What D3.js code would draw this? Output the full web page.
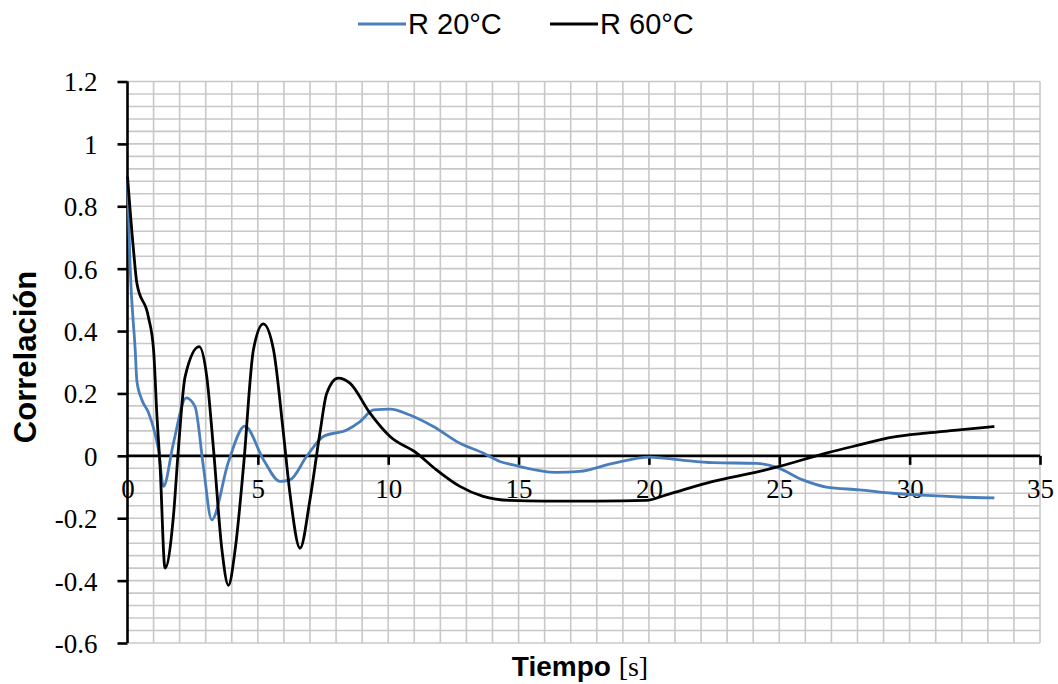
<html>
<head>
	<meta charset='utf-8' />
	<title>Correlacion</title>
	<script src="https://cdn.jsdelivr.net/npm/d3@7/dist/d3.min.js"></script>
	<style>
	body { margin:0; background:#ffffff; }
	.grid line { stroke:#c8c8c8; stroke-width:1.6; }
	.serif { font-family:"Liberation Serif","Times New Roman",Times,"DejaVu Serif",serif; }
	.sans { font-family:"Liberation Sans",Arial,Helvetica,sans-serif; }
	</style>
</head>
<body>
<script>

	// R 20°C
	var t20 = [0, 0.1, 0.295, 0.36, 0.55, 0.8, 1.06, 1.19, 1.38, 1.76, 2.25, 2.59, 2.91, 3.23, 3.87, 4.5, 5.22, 5.85, 6.23, 6.87, 7.51, 8.41, 8.92, 9.44, 10.07, 10.83, 11.73, 12.75, 13.64, 14.28, 14.79, 16.45, 17.34, 18.62, 20.03, 21.18, 22.46, 24.12, 24.88, 25.9, 26.8, 28.07, 29.35, 30.63, 31.9, 33.25];
	var r20 = [0.89, 0.607, 0.34, 0.24, 0.18, 0.14, 0.07, 0.02, -0.098, 0.04, 0.186, 0.158, -0.034, -0.205, -0.02, 0.095, -0.013, -0.082, -0.077, -0.002, 0.062, 0.083, 0.11, 0.147, 0.15, 0.131, 0.094, 0.04, 0.009, -0.018, -0.029, -0.053, -0.05, -0.024, -0.004, -0.013, -0.022, -0.024, -0.036, -0.077, -0.1, -0.109, -0.12, -0.127, -0.132, -0.135];

	// R 60°C
	var t60 = [0, 0.23, 0.36, 0.8, 1.0, 1.13, 1.25, 1.44, 1.76, 1.95, 2.21, 2.75, 3.04, 3.3, 3.62, 3.87, 4.13, 4.45, 4.83, 5.21, 5.6, 5.98, 6.23, 6.62, 7.0, 7.38, 7.64, 8.08, 8.53, 9.3, 10.07, 11.09, 11.85, 12.75, 13.64, 14.66, 16, 18, 19.9, 20.67, 22.46, 24.24, 25.0, 26.8, 28.07, 29.35, 30.63, 31.9, 33.25];
	var r60 = [0.895, 0.66, 0.553, 0.446, 0.34, 0.126, -0.034, -0.36, -0.195, 0.02, 0.254, 0.35, 0.254, 0.02, -0.3, -0.415, -0.3, -0.034, 0.34, 0.423, 0.34, 0.073, -0.12, -0.296, -0.14, 0.073, 0.2, 0.249, 0.233, 0.137, 0.062, 0.009, -0.045, -0.098, -0.13, -0.143, -0.145, -0.145, -0.143, -0.125, -0.082, -0.05, -0.034, 0.009, 0.035, 0.06, 0.073, 0.083, 0.094];

	var xTicks = [0, 5, 10, 15, 20, 25, 30, 35];
	var yTicks = [-0.6, -0.4, -0.2, 0, 0.2, 0.4, 0.6, 0.8, 1, 1.2];
	var seriesNames = ["R 20°C", "R 60°C"];
	var seriesColors = ["#4a7ebb", "#000000"];

	var width = 1058, height = 684;
	var plot = {left:127.5, right:1040, top:81.5, bottom:643};

	var svg = d3.select("body").append("svg")
		.attr("width", width).attr("height", height)
		.style("display","block");

	svg.append("rect").attr("width",width).attr("height",height).attr("fill","#ffffff");

	var xScale = d3.scaleLinear().domain([0,35]).range([plot.left, plot.right]);
	var yScale = d3.scaleLinear().domain([-0.6,1.2]).range([plot.bottom, plot.top]);

	// grid
	var grid = svg.append("g").attr("class","grid");
	grid.selectAll(".vg").data(d3.range(1,36)).enter().append("line")
		.attr("x1",d=>xScale(d)).attr("x2",d=>xScale(d))
		.attr("y1",plot.top).attr("y2",plot.bottom);
	grid.selectAll(".hg").data(d3.range(0,46).map(i=>-0.6+i*0.04)).enter().append("line")
		.attr("x1",plot.left).attr("x2",plot.right)
		.attr("y1",d=>yScale(d)).attr("y2",d=>yScale(d));

	// y axis
	var yAxis = svg.append("g")
		.attr("transform","translate(" + plot.left + ",0)")
		.call(d3.axisLeft(yScale).tickValues(yTicks).tickSize(10).tickPadding(20).tickFormat(d=>String(+d.toFixed(1))));
	yAxis.attr("font-family",null).attr("font-size",null);
	yAxis.selectAll("path,line").attr("stroke","#000").attr("stroke-width",2.6);
	yAxis.select(".domain").attr("d","M0," + plot.top + "V" + plot.bottom);
	yAxis.selectAll("text").attr("class","serif").style("font-size","27px").attr("fill","#000").attr("dy","0.35em");

	// x axis on zero line
	var xAxis = svg.append("g")
		.attr("transform","translate(0," + yScale(0) + ")")
		.call(d3.axisBottom(xScale).tickValues(xTicks).tickSize(9).tickPadding(14));
	xAxis.attr("font-family",null).attr("font-size",null);
	xAxis.selectAll("path,line").attr("stroke","#000").attr("stroke-width",2.6);
	xAxis.select(".domain").attr("d","M" + plot.left + ",0H" + plot.right);
	xAxis.selectAll(".tick").filter(d=>d==0).select("line").remove();
	xAxis.selectAll("text").attr("class","serif").style("font-size","27px").attr("fill","#000");

	// lines
	var line = d3.line()
		.x(d=>xScale(d[0]))
		.y(d=>yScale(d[1]))
		.curve(d3.curveMonotoneX);

	var data = [t20.map((t,i)=>[t,r20[i]]), t60.map((t,i)=>[t,r60[i]])];
	svg.selectAll(".series").data(data).enter().append("path")
		.attr("class","series")
		.attr("fill","none")
		.attr("stroke",(d,i)=>seriesColors[i])
		.attr("stroke-width",2.8)
		.attr("stroke-linejoin","round")
		.attr("d",line);

	// axis titles
	svg.append("text")
		.attr("class","sans")
		.attr("transform","translate(36,357) rotate(-90)")
		.attr("text-anchor","middle")
		.attr("font-weight","bold").style("font-size","31px")
		.text("Correlación");

	var xt = svg.append("text")
		.attr("x",580).attr("y",676)
		.attr("text-anchor","middle")
		.style("font-size","28px");
	xt.append("tspan").attr("class","sans").attr("font-weight","bold").text("Tiempo ");
	xt.append("tspan").attr("class","serif").text("[s]");

	// legend
	var legend = svg.append("g");
	var legX = [358, 550];
	seriesNames.forEach(function(name,i) {
		legend.append("line")
			.attr("x1",legX[i]).attr("x2",legX[i]+48)
			.attr("y1",24).attr("y2",24)
			.attr("stroke",seriesColors[i]).attr("stroke-width",3);
		legend.append("text")
			.attr("class","sans")
			.attr("x",legX[i]+50).attr("y",24).attr("dy","0.35em")
			.style("font-size","29px")
			.text(name);
	});

</script>
</body>
</html>
